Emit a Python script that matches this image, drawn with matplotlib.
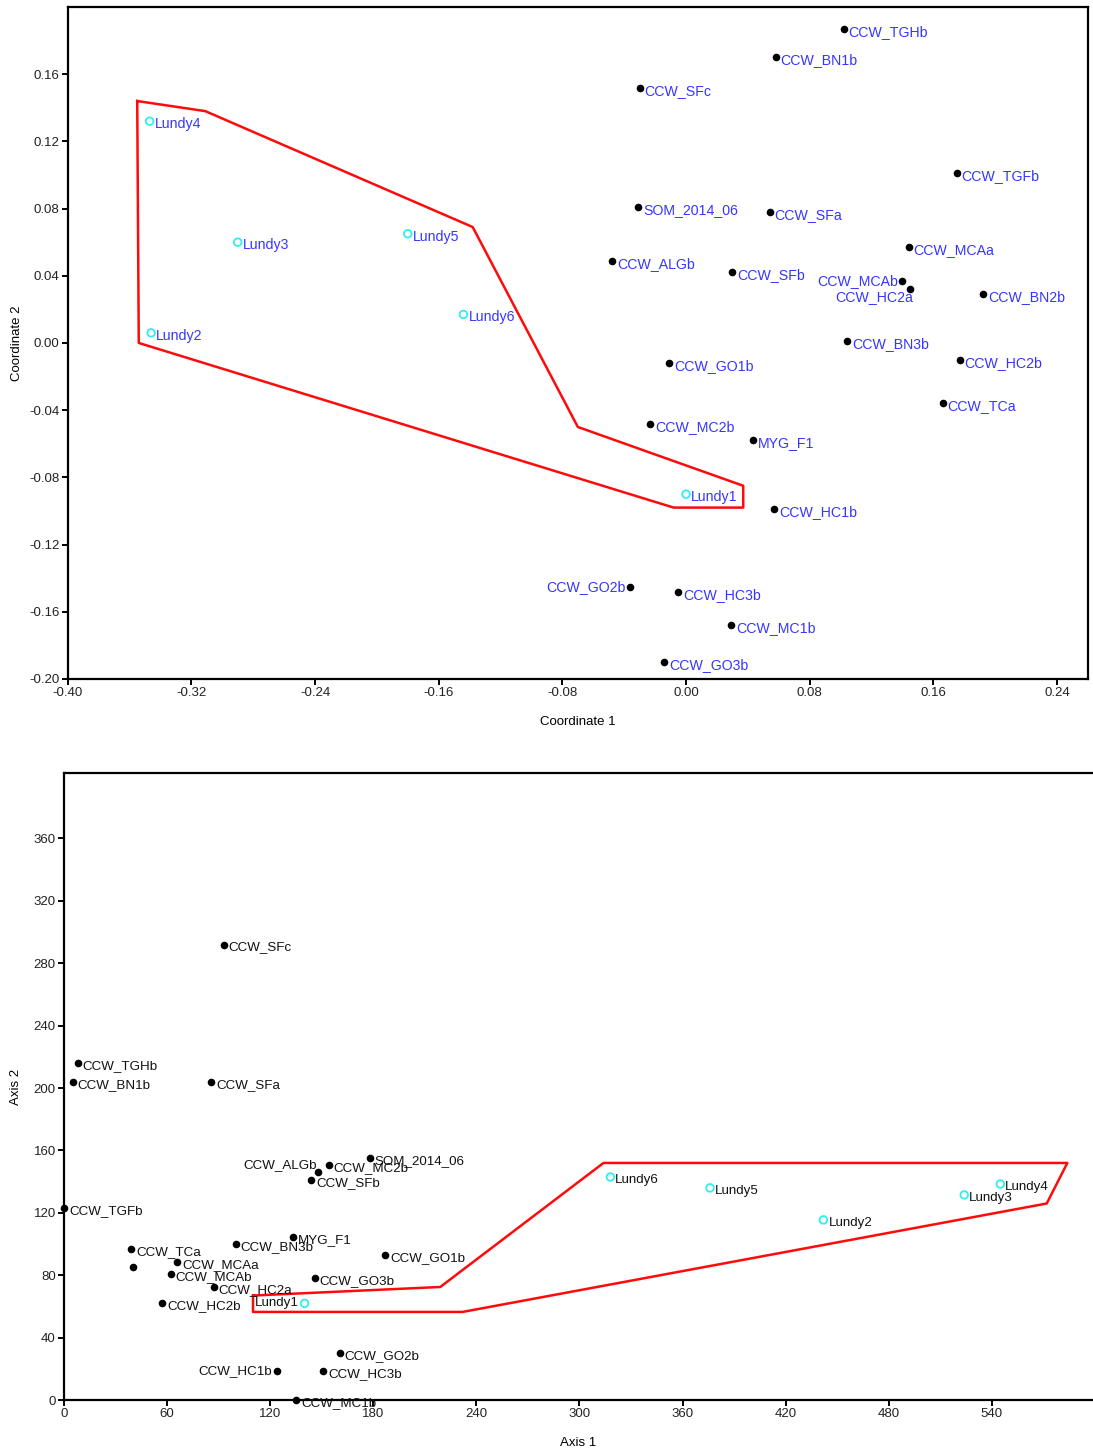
import matplotlib
matplotlib.use("Agg")
import matplotlib.pyplot as plt
import numpy as np

plt.rcParams['font.family'] = ['Liberation Sans', 'DejaVu Sans']

# ---- top panel: coordinates (blue labels) ----
top_names = ['CCW_TGHb', 'CCW_BN1b', 'CCW_SFc', 'CCW_TGFb', 'SOM_2014_06', 'CCW_SFa',
             'CCW_MCAa', 'CCW_ALGb', 'CCW_SFb', 'CCW_MCAb', 'CCW_HC2a', 'CCW_BN2b',
             'CCW_BN3b', 'CCW_HC2b', 'CCW_GO1b', 'CCW_TCa', 'CCW_MC2b', 'MYG_F1',
             'CCW_HC1b', 'CCW_GO2b', 'CCW_HC3b', 'CCW_MC1b', 'CCW_GO3b']
top_x = [0.102, 0.058, -0.030, 0.175, -0.031, 0.054,
         0.144, -0.048, 0.030, 0.140, 0.145, 0.192,
         0.104, 0.177, -0.011, 0.166, -0.023, 0.043,
         0.057, -0.036, -0.005, 0.029, -0.014]
top_y = [0.187, 0.170, 0.152, 0.101, 0.081, 0.078,
         0.057, 0.049, 0.042, 0.037, 0.032, 0.029,
         0.001, -0.010, -0.012, -0.036, -0.048, -0.058,
         -0.099, -0.145, -0.148, -0.168, -0.190]

top_lundy = ['Lundy1', 'Lundy2', 'Lundy3', 'Lundy4', 'Lundy5', 'Lundy6']
top_lundy_x = [0.000, -0.346, -0.290, -0.347, -0.180, -0.144]
top_lundy_y = [-0.090, 0.006, 0.060, 0.132, 0.065, 0.017]

top_hull_x = [-0.355, -0.311, -0.138, -0.070, 0.037, 0.037, -0.008, -0.354]
top_hull_y = [0.144, 0.138, 0.069, -0.050, -0.085, -0.098, -0.098, 0.000]

# ---- bottom panel: axis scores (black labels) ----
bot_names = ['CCW_SFc', 'CCW_TGHb', 'CCW_BN1b', 'CCW_SFa', 'CCW_TGFb', 'SOM_2014_06',
             'CCW_MC2b', 'CCW_ALGb', 'CCW_SFb', 'MYG_F1', 'CCW_BN3b', 'CCW_TCa', '',
             'CCW_MCAa', 'CCW_MCAb', 'CCW_HC2a', 'CCW_HC2b', 'CCW_GO1b', 'CCW_GO3b',
             'CCW_GO2b', 'CCW_HC1b', 'CCW_HC3b', 'CCW_MC1b']
bot_x = [93, 8, 5, 85.5, 0, 178,
         154, 148, 144, 133, 100, 39, 40,
         66, 62, 87, 57, 187, 146,
         160.5, 124, 151, 135]
bot_y = [292, 216, 204, 204, 123, 155,
         150.5, 146, 141, 104.5, 100, 97, 85,
         88.5, 81, 72.5, 62, 93, 78,
         30, 18.5, 18.5, 0]

bot_lundy = ['Lundy1', 'Lundy2', 'Lundy3', 'Lundy4', 'Lundy5', 'Lundy6']
bot_lundy_x = [140, 442, 524, 545, 376, 318]
bot_lundy_y = [62, 115.5, 131.5, 138.5, 136, 143]

bot_hull_x = [110, 219, 314, 584, 572, 232, 110]
bot_hull_y = [67, 72.5, 152, 152, 126, 56.5, 56.5]

# label placement (pixel offsets); default is right of the point
default_off = ((5, -3), 'left')
top_off = {'CCW_MCAb': ((-4, 0), 'right'), 'CCW_HC2a': ((3, -8), 'right'),
           'CCW_GO2b': ((-5, 0), 'right')}
bot_off = {'CCW_ALGb': ((-1, 7), 'right'), 'CCW_HC1b': ((-5, 0), 'right'),
           'Lundy1': ((-6, 0), 'right')}

BLUE = '#3535ff'
CYAN = '#2ef0f0'
RED = '#ff0a0a'


def style_axes(ax):
    for s in ax.spines.values():
        s.set_linewidth(1.6)
    ax.tick_params(direction='out', length=4, width=1.4, labelsize=9.5,
                   colors='black', labelcolor='#222222', pad=2)


def label_points(ax, names, xs, ys, color, offsets, size):
    for n, x, y in zip(names, xs, ys):
        if not n:
            continue
        off, ha = offsets.get(n, default_off)
        ax.annotate(n, (x, y), xytext=off, textcoords='offset pixels',
                    ha=ha, va='center', fontsize=size, color=color,
                    annotation_clip=False)


fig = plt.figure(figsize=(10.93, 14.48), dpi=100)

# top plot
ax1 = fig.add_axes([0.0619, 0.5311, 0.9335, 0.4641])
ax1.plot(top_hull_x + top_hull_x[:1], top_hull_y + top_hull_y[:1],
         color=RED, lw=1.8, zorder=2)
ax1.scatter(top_x, top_y, s=20, color='black', zorder=3)
ax1.scatter(top_lundy_x, top_lundy_y, s=30, facecolors='none',
            edgecolors=CYAN, linewidths=1.3, zorder=3)
label_points(ax1, top_names, top_x, top_y, BLUE, top_off, 10.2)
label_points(ax1, top_lundy, top_lundy_x, top_lundy_y, BLUE, top_off, 10.2)
ax1.set_xlim(-0.40, 0.26)
ax1.set_ylim(-0.20, 0.20)
ax1.set_xticks(np.arange(-0.40, 0.25, 0.08))
ax1.set_yticks(np.arange(-0.20, 0.17, 0.04))
ax1.xaxis.set_major_formatter(plt.FormatStrFormatter('%.2f'))
ax1.yaxis.set_major_formatter(plt.FormatStrFormatter('%.2f'))
ax1.set_xlabel('Coordinate 1', fontsize=9.5, labelpad=12)
ax1.set_ylabel('Coordinate 2', fontsize=9.5, labelpad=4)
style_axes(ax1)

# bottom plot
ax2 = fig.add_axes([0.0586, 0.0331, 0.9415, 0.4331])
ax2.plot(bot_hull_x + bot_hull_x[:1], bot_hull_y + bot_hull_y[:1],
         color=RED, lw=1.8, zorder=2)
ax2.scatter(bot_x, bot_y, s=20, color='black', zorder=4, clip_on=False)
ax2.scatter(bot_lundy_x, bot_lundy_y, s=30, facecolors='none',
            edgecolors=CYAN, linewidths=1.3, zorder=4)
label_points(ax2, bot_names, bot_x, bot_y, '#111111', bot_off, 9.6)
label_points(ax2, bot_lundy, bot_lundy_x, bot_lundy_y, '#111111', bot_off, 9.6)
ax2.set_xlim(0, 599)
ax2.set_ylim(0, 402)
ax2.set_xticks(np.arange(0, 541, 60))
ax2.set_yticks(np.arange(0, 361, 40))
ax2.spines['right'].set_visible(False)
ax2.set_xlabel('Axis 1', fontsize=9.5, labelpad=12)
ax2.set_ylabel('Axis 2', fontsize=9.5, labelpad=8)
style_axes(ax2)

fig.savefig('out.png', dpi=100, facecolor='white')
